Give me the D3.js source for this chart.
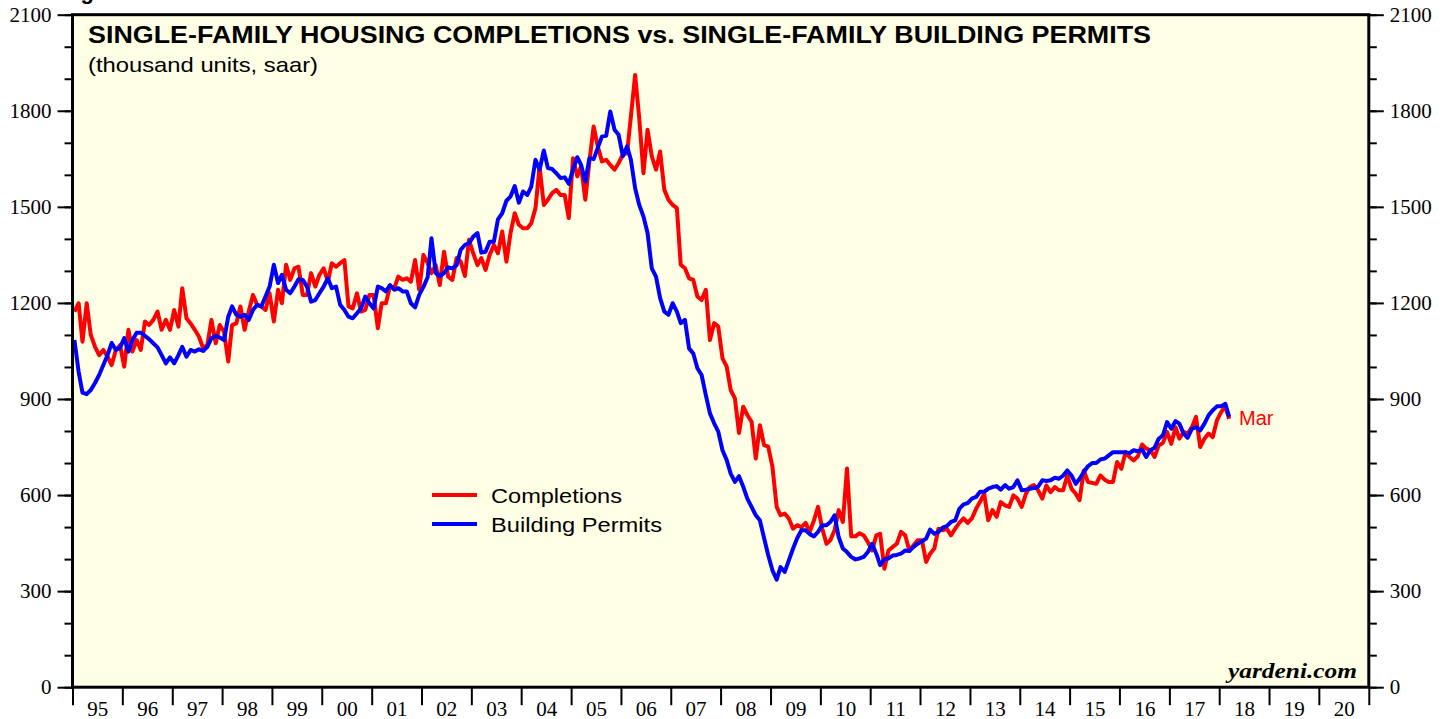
<!DOCTYPE html>
<html>
<head>
<meta charset="utf-8">
<script src="https://cdn.jsdelivr.net/npm/d3@7"></script>
<style>
  body { margin: 0; background: #fff; }
  .tick text { font-family: "Liberation Serif", "Times New Roman", serif; font-size: 21px; fill: #000; }
  .tick line { stroke: #000; stroke-width: 2; }
  .sans { font-family: "Liberation Sans", Arial, Helvetica, sans-serif; }
</style>
</head>
<body>
<div id="viz_container"></div>
<script>
// monthly values, thousand units saar, Jan 1995 .. Mar 2018
const completions = [
  1173, 1199, 1079, 1199, 1100, 1063, 1037, 1053, 1032, 1006, 1053, 1068, // 95
  1001, 1116, 1048, 1084, 1053, 1142, 1131, 1147, 1173, 1116, 1147, 1116, // 96
  1178, 1126, 1246, 1152, 1136, 1116, 1095, 1058, 1069, 1147, 1074, 1131, // 97
  1110, 1017, 1131, 1136, 1189, 1116, 1173, 1225, 1194, 1189, 1178, 1230, // 98
  1142, 1241, 1199, 1319, 1272, 1308, 1313, 1225, 1225, 1293, 1251, 1288, // 99
  1308, 1267, 1324, 1313, 1324, 1334, 1189, 1183, 1230, 1173, 1178, 1225, // 00
  1225, 1121, 1199, 1199, 1251, 1246, 1282, 1272, 1277, 1266, 1334, 1241, // 01
  1350, 1324, 1293, 1318, 1256, 1360, 1282, 1272, 1340, 1329, 1284, 1397, // 02
  1355, 1318, 1340, 1303, 1350, 1381, 1355, 1423, 1329, 1418, 1480, 1444, // 03
  1433, 1433, 1449, 1496, 1626, 1506, 1522, 1543, 1553, 1537, 1537, 1465, // 04
  1652, 1595, 1626, 1522, 1642, 1751, 1689, 1642, 1647, 1631, 1616, 1637, // 05
  1663, 1668, 1782, 1912, 1777, 1605, 1741, 1658, 1616, 1673, 1553, 1522, // 06
  1506, 1496, 1319, 1308, 1277, 1272, 1220, 1209, 1241, 1084, 1137, 1126, // 07
  1027, 1001, 928, 902, 794, 876, 850, 829, 714, 818, 756, 751,           // 08
  688, 563, 537, 542, 527, 495, 506, 500, 513, 485, 521, 563,             // 09
  495, 448, 459, 490, 553, 516, 683, 471, 471, 481, 474, 453,             // 10
  427, 474, 479, 370, 427, 438, 448, 485, 474, 427, 443, 459,             // 11
  459, 391, 417, 433, 495, 490, 495, 474, 495, 513, 527, 513,             // 12
  527, 557, 578, 604, 521, 553, 532, 578, 568, 563, 599, 589,             // 13
  563, 604, 625, 631, 615, 589, 630, 609, 625, 615, 615, 661,             // 14
  620, 604, 584, 677, 641, 638, 635, 661, 648, 641, 641, 703,             // 15
  682, 734, 719, 708, 721, 758, 745, 740, 719, 755, 763, 797,             // 16
  760, 812, 776, 797, 792, 812, 844, 750, 776, 792, 781, 833,             // 17
  859, 877, 838                                                           // 18
];

const permits = [
  1084, 985, 920, 915, 928, 950, 975, 1006, 1037, 1075, 1053, 1060,       // 95
  1090, 1048, 1084, 1107, 1107, 1097, 1087, 1074, 1061, 1037, 1011, 1030, // 96
  1011, 1037, 1063, 1032, 1053, 1048, 1055, 1050, 1063, 1090, 1097, 1092, // 97
  1084, 1157, 1189, 1163, 1157, 1163, 1147, 1178, 1194, 1189, 1220, 1251, // 98
  1319, 1262, 1288, 1241, 1230, 1251, 1274, 1272, 1251, 1204, 1209, 1230, // 99
  1251, 1277, 1246, 1251, 1194, 1178, 1157, 1152, 1168, 1183, 1220, 1199, // 00
  1183, 1251, 1246, 1236, 1256, 1241, 1246, 1236, 1236, 1199, 1186, 1225, // 01
  1250, 1280, 1402, 1293, 1284, 1293, 1311, 1308, 1318, 1366, 1381, 1386, // 02
  1407, 1418, 1357, 1360, 1391, 1391, 1461, 1480, 1519, 1532, 1565, 1513, // 03
  1548, 1537, 1563, 1647, 1616, 1676, 1621, 1618, 1605, 1590, 1592, 1572, // 04
  1616, 1655, 1631, 1579, 1652, 1649, 1684, 1720, 1722, 1798, 1741, 1725, // 05
  1658, 1689, 1647, 1558, 1506, 1470, 1418, 1308, 1282, 1215, 1173, 1163, // 06
  1199, 1173, 1137, 1147, 1058, 1042, 996, 975, 912, 855, 824, 798,       // 07
  740, 709, 667, 641, 659, 626, 589, 563, 537, 521, 465, 412,             // 08
  365, 336, 375, 360, 396, 433, 465, 490, 490, 478, 471, 485,             // 09
  506, 506, 516, 537, 469, 433, 422, 407, 399, 402, 407, 422,             // 10
  448, 417, 381, 399, 402, 411, 413, 417, 427, 425, 438, 448,             // 11
  456, 464, 492, 479, 485, 498, 503, 516, 521, 557, 571, 575,             // 12
  589, 594, 610, 610, 620, 625, 628, 617, 631, 620, 625, 646,             // 13
  615, 617, 620, 622, 626, 646, 644, 646, 654, 651, 661, 677,             // 14
  661, 635, 651, 672, 690, 700, 700, 711, 714, 724, 734, 734,             // 15
  734, 734, 731, 740, 737, 742, 719, 740, 748, 776, 787, 828,             // 16
  807, 831, 823, 792, 779, 807, 812, 802, 823, 849, 865, 877,             // 17
  877, 885, 844                                                           // 18
];

const yearStart = 1995;
const yearEnd = 2021;
const yMajorTicks = [0, 300, 600, 900, 1200, 1500, 1800, 2100];
const yMinorTicks = d3.range(0, 2101, 100);
const seriesNames = ["Completions", "Building Permits"];
const seriesColors = ["#ff0000", "#0000ff"];
const lastLabel = "Mar";

// set the dimensions and margins of the graph
const margin = {top: 14.7, right: 81.2, bottom: 31.8, left: 72.5};
const width = 1450 - margin.left - margin.right;
const height = 719 - margin.top - margin.bottom;

const svgRoot = d3.select("#viz_container")
  .append("svg")
    .attr("width", 1450)
    .attr("height", 719)
    .style("display", "block");

// cut off heading above the frame
svgRoot.append("text")
    .attr("class", "sans")
    .attr("x", 61)
    .attr("y", -1)
    .style("font-weight", "bold")
    .style("font-size", "22px")
  .text("Figure 1.");

const svg = svgRoot.append("g")
    .attr("transform", `translate(${margin.left},${margin.top})`);

// background
svg.append("rect")
    .attr("width", width)
    .attr("height", height)
    .style("fill", "#ffffe6");

// scales
const xScale = d3.scaleTime()
  .domain([new Date(yearStart, 0, 1), new Date(yearEnd, 0, 1)])
  .range([0, width]);

const yScale = d3.scaleLinear()
  .domain([0, 2100])
  .range([height, 0]);

// left axis
svg.append("g")
  .call(d3.axisLeft(yScale).tickValues(yMinorTicks).tickSize(8).tickFormat(""))
  .call(g => g.select(".domain").remove());
svg.append("g")
  .call(d3.axisLeft(yScale).tickValues(yMajorTicks).tickSize(15).tickPadding(6).tickFormat(d3.format("d")))
  .call(g => g.select(".domain").remove());

// right axis
svg.append("g")
    .attr("transform", `translate(${width},0)`)
  .call(d3.axisRight(yScale).tickValues(yMinorTicks).tickSize(8).tickFormat(""))
  .call(g => g.select(".domain").remove());
svg.append("g")
    .attr("transform", `translate(${width},0)`)
  .call(d3.axisRight(yScale).tickValues(yMajorTicks).tickSize(15).tickPadding(6).tickFormat(d3.format("d")))
  .call(g => g.select(".domain").remove());

// bottom axis: ticks at year boundaries, labels mid-year
const yearBounds = d3.range(yearStart, yearEnd + 1).map(y => new Date(y, 0, 1));
const yearMids = d3.range(yearStart, yearEnd).map(y => new Date(y, 6, 2));
svg.append("g")
    .attr("transform", `translate(0,${height})`)
  .call(d3.axisBottom(xScale).tickValues(yearBounds).tickSize(18).tickFormat(""))
  .call(g => g.select(".domain").remove());
svg.append("g")
    .attr("transform", `translate(0,${height})`)
  .call(d3.axisBottom(xScale).tickValues(yearMids).tickSize(0).tickPadding(14).tickFormat(d3.timeFormat("%y")))
  .call(g => g.select(".domain").remove());

// lines
const toPoints = vals => vals.map((v, i) => ({date: new Date(yearStart, i, 15), value: v}));
const line = d3.line()
  .x(d => xScale(d.date))
  .y(d => yScale(d.value));

[completions, permits].forEach((vals, k) => {
  svg.append("path")
      .datum(toPoints(vals))
      .attr("d", line)
      .style("fill", "none")
      .style("stroke", seriesColors[k])
      .style("stroke-width", 4)
      .style("stroke-linejoin", "round");
});

// frame
svg.append("rect")
    .attr("width", width)
    .attr("height", height)
    .style("fill", "none")
    .style("stroke", "#000")
    .style("stroke-width", 3);

// title
svg.append("text")
    .attr("class", "sans")
    .attr("x", 88 - margin.left)
    .attr("y", 43.3 - margin.top)
    .attr("textLength", 1063)
    .attr("lengthAdjust", "spacingAndGlyphs")
    .style("font-weight", "bold")
    .style("font-size", "23px")
  .text("SINGLE-FAMILY HOUSING COMPLETIONS vs. SINGLE-FAMILY BUILDING PERMITS");

svg.append("text")
    .attr("class", "sans")
    .attr("x", 88 - margin.left)
    .attr("y", 71.7 - margin.top)
    .attr("textLength", 230)
    .attr("lengthAdjust", "spacingAndGlyphs")
    .style("font-size", "21px")
  .text("(thousand units, saar)");

// legend
const legendWidths = [131, 171];
seriesNames.forEach((name, k) => {
  const ly = 495 + k * 29 - margin.top;
  svg.append("line")
      .attr("x1", 432 - margin.left)
      .attr("x2", 477 - margin.left)
      .attr("y1", ly)
      .attr("y2", ly)
      .style("stroke", seriesColors[k])
      .style("stroke-width", 4);
  svg.append("text")
      .attr("class", "sans")
      .attr("x", 491 - margin.left)
      .attr("y", ly + 8)
      .attr("textLength", legendWidths[k])
      .attr("lengthAdjust", "spacingAndGlyphs")
      .style("font-size", "20px")
    .text(name);
});

// last month label
svg.append("text")
    .attr("class", "sans")
    .attr("x", 1239 - margin.left)
    .attr("y", 425 - margin.top)
    .style("font-size", "20px")
    .style("fill", seriesColors[0])
  .text(lastLabel);

// source
svg.append("text")
    .attr("x", 1357 - margin.left)
    .attr("y", 678 - margin.top)
    .attr("text-anchor", "end")
    .attr("textLength", 129)
    .attr("lengthAdjust", "spacingAndGlyphs")
    .style("font-family", "\"Liberation Serif\", \"Times New Roman\", serif")
    .style("font-weight", "bold")
    .style("font-style", "italic")
    .style("font-size", "22px")
  .text("yardeni.com");
</script>
</body>
</html>
